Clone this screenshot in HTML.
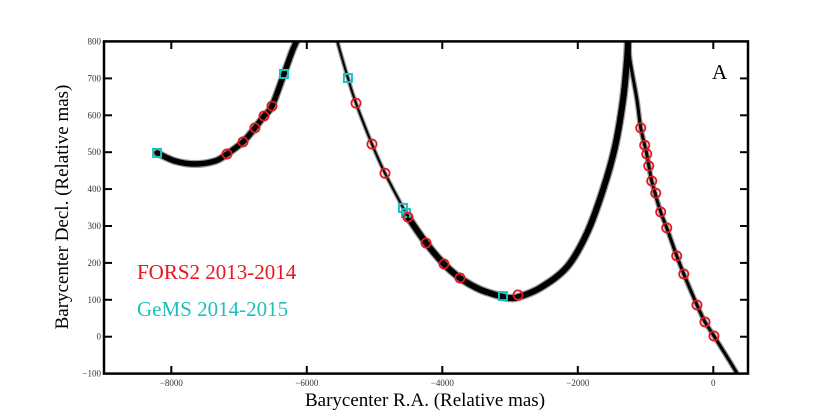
<!DOCTYPE html>
<html><head><meta charset="utf-8"><style>
html,body{margin:0;padding:0;background:#fff;}
svg{display:block;font-family:"Liberation Serif",serif;}
</style></head><body>
<svg id="chart" width="830" height="415" viewBox="0 0 830 415" xmlns="http://www.w3.org/2000/svg">
<defs><clipPath id="clip"><rect x="104" y="41.4" width="644" height="332.2"/></clipPath></defs>
<g id="curves" clip-path="url(#clip)"></g>
<g id="marks"></g>
<rect x="104" y="41.4" width="644" height="332.2" fill="none" stroke="#000" stroke-width="2.5"/>
<g id="axes"></g>
<text x="425" y="406" font-size="19" text-anchor="middle">Barycenter R.A. (Relative mas)</text>
<text transform="translate(68,207) rotate(-90)" font-size="19" text-anchor="middle">Barycenter Decl. (Relative mas)</text>
<text x="137" y="279" font-size="21" fill="#e8161e">FORS2 2013-2014</text>
<text x="137" y="316" font-size="21" fill="#1fbfbf">GeMS 2014-2015</text>
<text x="712" y="79" font-size="21">A</text>
</svg>
<script>
const xTicks = [-8000, -6000, -4000, -2000, 0];
const yTicks = [-100, 0, 100, 200, 300, 400, 500, 600, 700, 800];
const trackLeftLoop = [[-8210,498],[-7944,476],[-7649,468],[-7354,476],[-7178,495],[-6942,528],[-6765,566],[-6632,598],[-6514,625],[-6337,712],[-6219,772],[-6145,804],[-6101,831]];
const trackUpper = [[-5569,831],[-5554,804],[-5393,701],[-5274,633],[-5038,522],[-4846,443],[-4506,324]];
const trackLower = [[-4506,324],[-4240,254],[-3975,197],[-3739,159],[-3444,128],[-3105,108],[-3001,105],[-2883,107],[-2558,132],[-2159,189],[-1864,281],[-1628,398],[-1451,514],[-1333,641],[-1274,750],[-1259,804],[-1252,831]];
const trackRight = [[-1252,831],[-1240,790],[-1230,750],[-1127,642],[-1071,566],[-982,495],[-909,422],[-776,338],[-687,295],[-540,219],[-436,170],[-241,86],[-123,40],[10,2],[349,-99],[423,-132]];
const forsX = [-7178,-6942,-6765,-6632,-6514,-5274,-5038,-4846,-4506,-4240,-3975,-3739,-2883,-1071,-1012,-982,-953,-909,-850,-776,-687,-540,-436,-241,-123,10];
const forsY = [495,528,566,598,625,633,522,443,324,254,197,159,113,566,519,495,463,422,389,338,295,219,170,86,40,2];
const gemsX = [-8210,-6337,-5393,-4581,-4536,-3105];
const gemsY = [498,712,701,349,335,110];

const NS='http://www.w3.org/2000/svg';
function sx(v){return 713.3 + v*135.5/2000;}
function sy(v){return 336.7 - v*0.369;}
function mk(tag,attrs,parent){const e=document.createElementNS(NS,tag);for(const k in attrs)e.setAttribute(k,attrs[k]);parent.appendChild(e);return e;}
function pathD(pts){
  const p=pts.map(a=>[sx(a[0]),sy(a[1])]);
  let d='M'+p[0][0]+','+p[0][1];
  for(let i=0;i<p.length-1;i++){
    const p0=p[Math.max(0,i-1)],p1=p[i],p2=p[i+1],p3=p[Math.min(p.length-1,i+2)];
    const c1=[p1[0]+(p2[0]-p0[0])/6,p1[1]+(p2[1]-p0[1])/6];
    const c2=[p2[0]-(p3[0]-p1[0])/6,p2[1]-(p3[1]-p1[1])/6];
    d+=' C'+c1+' '+c2+' '+p2;
  }
  return d;
}
const cg=document.getElementById('curves');
const segs=[[trackLeftLoop,5.5,'track-left-loop'],[trackUpper,2,'track-upper'],[trackLower,6,'track-lower'],[trackRight,3,'track-right']];
segs.forEach(s=>{
  const g=mk('path',{d:pathD(s[0]),fill:'none',stroke:'#999','stroke-width':s[1]+2.5,'stroke-linecap':'round'},cg);
  
  
});
segs.forEach(s=>{
  const b=mk('path',{d:pathD(s[0]),fill:'none',stroke:'#000','stroke-width':s[1],'stroke-linecap':'round'},cg);
  
  
});
const mg=document.getElementById('marks');
gemsX.forEach((x,i)=>{
  const r=mk('rect',{x:sx(x)-4,y:sy(gemsY[i])-4,width:8,height:8,fill:'none',stroke:'#1fbfbf','stroke-width':2},mg);
  
  
});
forsX.forEach((x,i)=>{
  const c=mk('circle',{cx:sx(x),cy:sy(forsY[i]),r:4.6,fill:'none',stroke:'#e8161e','stroke-width':1.8},mg);
  
  
  const d=mk('circle',{cx:sx(x),cy:sy(forsY[i]),r:1.1,fill:'#000'},mg);
  
  
});
const ag=document.getElementById('axes');
xTicks.forEach(t=>{
  const X=sx(t);
  const a=mk('line',{x1:X,x2:X,y1:373.6,y2:366,stroke:'#000','stroke-width':2},ag);
  
  
  const b=mk('line',{x1:X,x2:X,y1:41.4,y2:49,stroke:'#000','stroke-width':2},ag);
  
  
  const l=mk('text',{x:X,y:386,'font-size':9,'text-anchor':'middle',fill:'#333'},ag);
  l.textContent=(t<0?'\u2212':'')+Math.abs(t);
  
  
});
yTicks.forEach(t=>{
  const Y=sy(t);
  if(t>-100&&t<800){
    const a=mk('line',{x1:104,x2:112,y1:Y,y2:Y,stroke:'#000','stroke-width':2},ag);
    
    
    const b=mk('line',{x1:740,x2:748,y1:Y,y2:Y,stroke:'#000','stroke-width':2},ag);
    
    
  }
  const l=mk('text',{x:101,y:Y+3,'font-size':9,'text-anchor':'end',fill:'#333'},ag);
  l.textContent=(t<0?'\u2212':'')+Math.abs(t);
  
  
});
</script>
</body></html>
